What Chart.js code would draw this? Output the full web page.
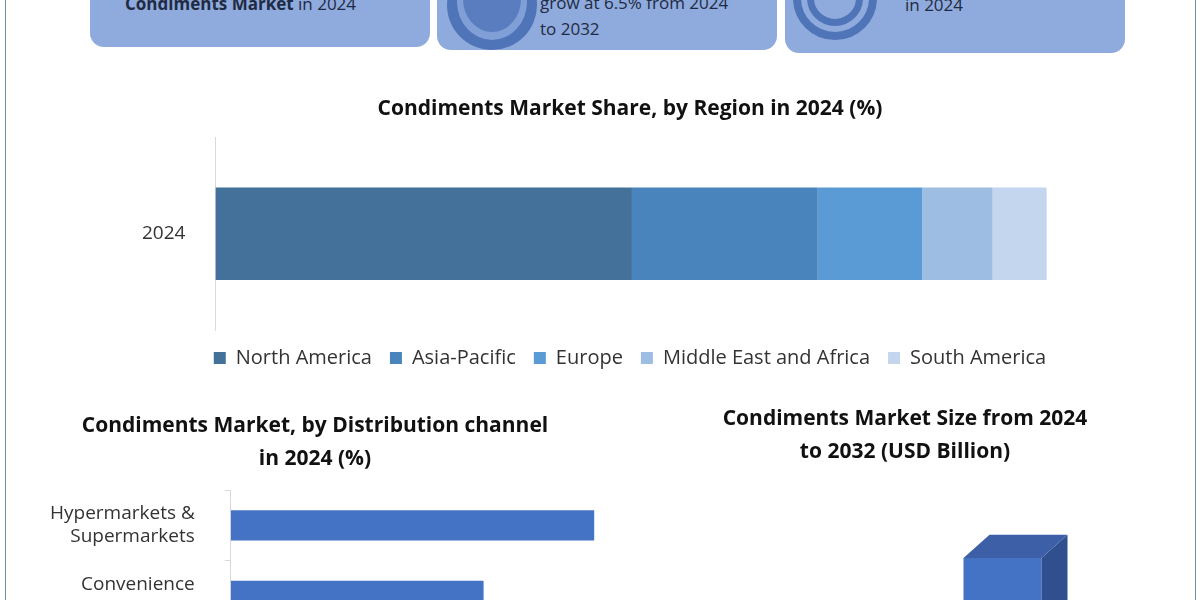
<!DOCTYPE html>
<html>
<head>
<meta charset="utf-8">
<script src="https://cdn.jsdelivr.net/npm/chart.js@4"></script>
<style>
  body { margin: 0; width: 1200px; height: 600px; overflow: hidden; background: #fff; font-family: "Open Sans", sans-serif; position: relative; }
  .frame { position: absolute; left: 5px; top: -5px; width: 1189px; height: 620px; border: 1px solid #6f8fa8; }
  .card { position: absolute; top: -30px; height: 78px; background: #8faadc; border-radius: 14px; color: #1f2a44; font-size: 17px; }
  .ring { position: absolute; border-radius: 50%; }
  .box { position: absolute; }
</style>
</head>
<body>
<div class="frame"></div>

<div class="card" style="left:90px;width:340px;height:77px">
  <div style="position:absolute;left:35px;top:22px"><b>Condiments Market</b> in 2024</div>
</div>
<div class="card" style="left:437px;width:340px;height:80px">
  <div class="ring" style="left:10px;top:-10px;width:90px;height:90px;background:#4f74b8"></div>
  <div class="ring" style="left:20px;top:-6px;width:70px;height:76px;background:#7f9fd6"></div>
  <div class="ring" style="left:26px;top:-4px;width:58px;height:66px;background:#5a7dc0"></div>
  <div style="position:absolute;left:103px;top:20px;line-height:26px">grow at 6.5% from 2024<br>to 2032</div>
</div>
<div class="card" style="left:785px;width:340px;height:83px">
  <div class="ring" style="left:8px;top:-14px;width:84px;height:84px;border:8px solid #4f74b8;box-sizing:border-box"></div>
  <div class="ring" style="left:22px;top:0px;width:56px;height:56px;border:7px solid #4f74b8;box-sizing:border-box"></div>
  <div style="position:absolute;left:120px;top:23px">in 2024</div>
</div>

<div class="box" style="left:0;top:90px;width:1200px;height:288px"><canvas id="regionChart"></canvas></div>
<div class="box" style="left:0;top:405px;width:630px;height:420px"><canvas id="channelChart"></canvas></div>
<div class="box" style="left:700px;top:400px;width:460px;height:330px"><canvas id="sizeChart"></canvas></div>

<script>
const regionYears = ["2024"];
const regions = ["North America", "Asia-Pacific", "Europe", "Middle East and Africa", "South America"];
const regionShares = [45.5, 20.3, 11.4, 7.7, 5.9];
const regionColors = ["#44719a", "#4a84bd", "#5b9bd5", "#9dbde3", "#c3d6ee"];

const channels = [["Hypermarkets &", "Supermarkets"], ["Convenience", "Stores"], "Online", "Others"];
const channelShares = [46, 32, 14, 8];

const sizeYears = ["2024", "2032"];
const sizeValues = [7, 17.2];

const titleFont = { family: "Open Sans", size: 21, weight: "bold", lineHeight: 1.6 };
const tickFont = { family: "Open Sans", size: 19 };

new Chart(document.getElementById("regionChart"), {
  type: "bar",
  data: {
    labels: regionYears,
    datasets: regions.map((r, i) => ({
      label: r,
      data: [regionShares[i]],
      backgroundColor: regionColors[i],
      barPercentage: 0.48,
      categoryPercentage: 1
    }))
  },
  options: {
    indexAxis: "y",
    responsive: true,
    maintainAspectRatio: false,
    animation: false,
    layout: { padding: { left: 120, right: 60, top: 0, bottom: 0 } },
    plugins: {
      title: { display: true, text: "Condiments Market Share, by Region in 2024 (%)", color: "#111", font: titleFont, padding: { top: 2, bottom: 12 } },
      legend: { position: "bottom", labels: { color: "#333", font: { family: "Open Sans", size: 20 }, boxWidth: 12, boxHeight: 12, padding: 18 } },
      tooltip: { enabled: false }
    },
    scales: {
      x: { stacked: true, min: 0, max: 101, display: false },
      y: { stacked: true, grid: { display: false }, border: { color: "#d9d9d9" }, ticks: { color: "#333", font: tickFont, padding: 22 } }
    }
  }
});

new Chart(document.getElementById("channelChart"), {
  type: "bar",
  data: { labels: channels, datasets: [{ data: channelShares, backgroundColor: "#4472c4", barPercentage: 0.43, categoryPercentage: 1 }] },
  options: {
    indexAxis: "y",
    responsive: true,
    maintainAspectRatio: false,
    animation: false,
    layout: { padding: { left: 20, right: 20 } },
    plugins: {
      title: { display: true, text: ["Condiments Market, by Distribution channel", "in 2024 (%)"], color: "#111", font: titleFont, padding: { top: 4, bottom: 14 }, align: "center" },
      legend: { display: false },
      tooltip: { enabled: false }
    },
    scales: {
      x: { min: 0, max: 48, display: false },
      y: { grid: { display: true, drawOnChartArea: false, tickLength: 6, color: "#d9d9d9" }, border: { color: "#d9d9d9" }, ticks: { color: "#333", font: tickFont, padding: 30 } }
    }
  }
});

const cube = {
  id: "cube",
  afterDatasetsDraw(chart) {
    const ctx = chart.ctx;
    chart.getDatasetMeta(0).data.forEach(b => {
      const d = 26, l = b.x - b.width / 2, r = b.x + b.width / 2, bot = b.base;
      ctx.save();
      ctx.fillStyle = "#2f4f8f";
      ctx.beginPath();
      ctx.moveTo(r, b.y); ctx.lineTo(r + d, b.y - d * 0.9); ctx.lineTo(r + d, bot - d * 0.9); ctx.lineTo(r, bot); ctx.fill();
      ctx.fillStyle = "#3c5fa8";
      ctx.beginPath();
      ctx.moveTo(l, b.y); ctx.lineTo(l + d, b.y - d * 0.9); ctx.lineTo(r + d, b.y - d * 0.9); ctx.lineTo(r, b.y); ctx.fill();
      ctx.restore();
    });
  }
};

new Chart(document.getElementById("sizeChart"), {
  type: "bar",
  data: { labels: sizeYears, datasets: [{ data: sizeValues, backgroundColor: "#4472c4", barPercentage: 0.4, categoryPercentage: 1 }] },
  options: {
    responsive: true,
    maintainAspectRatio: false,
    animation: false,
    layout: { padding: { left: 10, right: 60, bottom: 20 } },
    plugins: {
      title: { display: true, text: ["Condiments Market Size from 2024", "to 2032 (USD Billion)"], color: "#111", font: titleFont, padding: { top: 2, bottom: 20 } },
      legend: { display: false },
      tooltip: { enabled: false }
    },
    scales: {
      x: { grid: { display: false }, border: { display: false }, ticks: { color: "#333", font: tickFont } },
      y: { min: 0, max: 27.5, display: false }
    }
  },
  plugins: [cube]
});
</script>
</body>
</html>
